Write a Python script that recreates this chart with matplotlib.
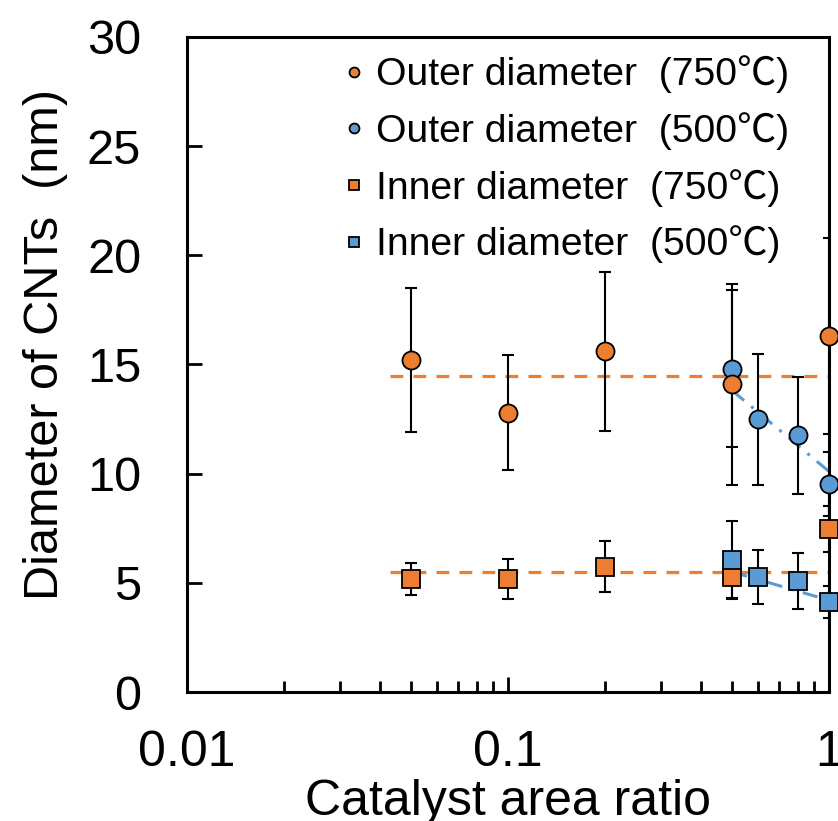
import matplotlib.pyplot as plt
import matplotlib
import numpy as np

# data
ratio_750 = [0.05, 0.1, 0.2, 0.5, 1.0]
outer_750 = [15.2, 12.8, 15.6, 14.1, 16.3]
outer_750_err = [3.3, 2.65, 3.65, 4.6, 4.5]
inner_750 = [5.18, 5.18, 5.73, 5.27, 7.47]
inner_750_err = [0.75, 0.9, 1.17, 0.98, 1.05]

ratio_500 = [0.5, 0.6, 0.8, 1.0]
outer_500 = [14.8, 12.5, 11.77, 9.53]
outer_500_err = [3.6, 3.0, 2.68, 1.47]
inner_500 = [6.05, 5.27, 5.08, 4.12]
inner_500_err = [1.8, 1.22, 1.3, 0.75]

# trend lines (endpoints)
trend_x_750 = [0.043, 1.0]
outer_trend_750 = [14.48, 14.48]
inner_trend_750 = [5.5, 5.5]
trend_x_500 = [0.5, 1.0]
outer_trend_500 = [13.8, 10.1]
inner_trend_500 = [5.5, 4.2]

labels = ['Outer diameter  (750\u2103)', 'Outer diameter  (500\u2103)',
          'Inner diameter  (750\u2103)', 'Inner diameter  (500\u2103)']

ORANGE = '#ED7D31'
BLUE = '#5B9BD5'

matplotlib.rcParams['font.family'] = ['Liberation Sans', 'Noto Sans CJK JP', 'DejaVu Sans']

fig = plt.figure(figsize=(8.38, 8.21), dpi=100)
ax = fig.add_axes([187/838, 129/821, 642/838, 655/821])

# trend lines
ax.plot(trend_x_750, outer_trend_750, color=ORANGE, lw=2.3, dashes=(4, 3.2), zorder=2)
ax.plot(trend_x_750, inner_trend_750, color=ORANGE, lw=2.3, dashes=(4, 3.2), zorder=2)
ax.plot(trend_x_500, outer_trend_500, color=BLUE, lw=2.2, dashes=(5, 3, 1, 3), zorder=2)
ax.plot(trend_x_500, inner_trend_500, color=BLUE, lw=2.2, dashes=(5, 3, 1, 3), zorder=2)

series = [
    (ratio_750, outer_750, outer_750_err, 'o', ORANGE, 6),
    (ratio_500, outer_500, outer_500_err, 'o', BLUE, 4),
    (ratio_750, inner_750, inner_750_err, 's', ORANGE, 4),
    (ratio_500, inner_500, inner_500_err, 's', BLUE, 6),
]
handles = []
for (x, y, e, m, c, z), lab in zip(series, labels):
    ax.errorbar(x, y, yerr=e, fmt='none', ecolor='black', elinewidth=1.5,
                capsize=4.5, capthick=1.5, zorder=3)
    h, = ax.plot(x, y, linestyle='none', marker=m, ms=13, mfc=c, mec='black',
                 mew=1.3, clip_on=False, zorder=z, label=lab)
    handles.append(h)

ax.set_xscale('log')
ax.set_xlim(0.01, 1)
ax.set_ylim(0, 30)
ax.set_yticks(np.arange(0, 31, 5))
ax.set_xticks([0.01, 0.1, 1])
ax.set_xticklabels(['0.01', '0.1', '1'])

for s in ax.spines.values():
    s.set_linewidth(2.2)

ax.tick_params(axis='both', which='major', direction='in', width=2, length=11,
               top=False, right=False)
ax.tick_params(axis='x', which='major', pad=27, labelsize=36)
ax.tick_params(axis='y', which='major', pad=33, labelsize=35)
ax.tick_params(axis='x', which='minor', direction='in', width=2, length=8,
               top=False)
ax.xaxis.set_minor_formatter(matplotlib.ticker.NullFormatter())

ax.set_xlabel('Catalyst area ratio', fontsize=36)
ax.xaxis.set_label_coords(0.5, -0.133)
ax.set_ylabel('Diameter of CNTs  (nm)', fontsize=35)
ax.yaxis.set_label_coords(-0.185, 0.53)

ax.legend(handles=handles, loc='upper left', bbox_to_anchor=(0.245, 0.972),
          frameon=False, fontsize=28.2, markerscale=0.55, handlelength=0.5,
          handletextpad=0.3, labelspacing=0.48, borderpad=0, borderaxespad=0)

fig.savefig('out.png', dpi=100)
